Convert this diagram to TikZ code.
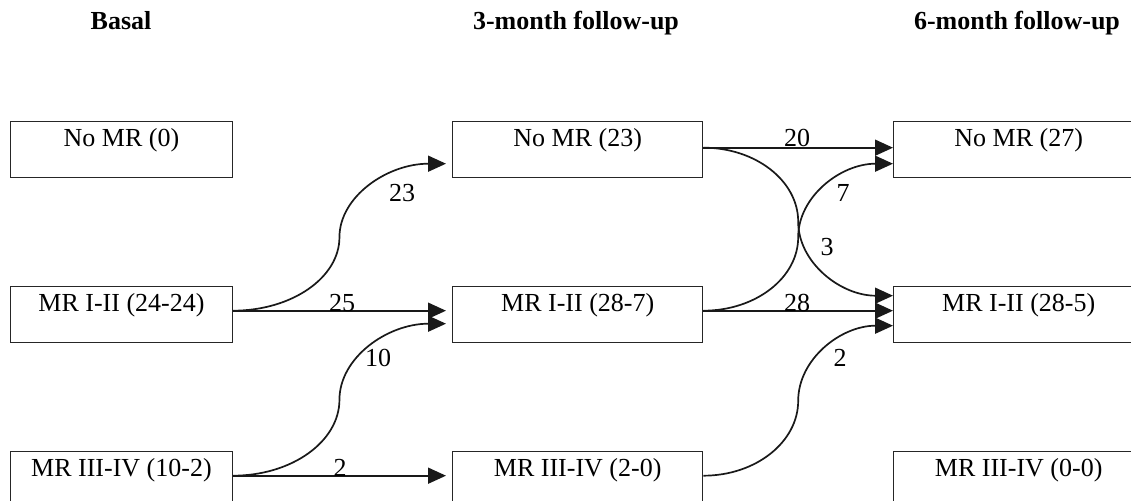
\documentclass[tikz,border=0pt]{standalone}
\usepackage{fontspec}
\setmainfont{Liberation Serif}
\usetikzlibrary{arrows.meta,calc}
\tikzset{
  box/.style={draw=black!85, line width=0.7pt, inner xsep=0pt, inner ysep=0pt,
    text height=12.5pt, text depth=15.5pt, minimum height=28pt, anchor=north west,
    font=\fontsize{13}{15.6}\selectfont},
  col1/.style={box, minimum width=110.75pt},
  col2/.style={box, minimum width=125pt},
  head/.style={anchor=base, inner sep=0pt, font=\fontsize{13}{15.6}\selectfont\bfseries},
  num/.style={inner sep=0pt, font=\fontsize{13}{15.6}\selectfont},
  arr/.style={draw=black!90, line width=0.85pt, -{Triangle[length=9pt,width=8pt]}},
  sc/.style={to path={let \p1=(\tikztostart), \p2=(\tikztotarget), \p3=($(\p1)!0.5!(\p2)$) in
    .. controls ($(\p1)+({0.276*(\x2-\x1)},0pt)$) and ($(\p3)+(0pt,{0.276*(\y1-\y2)})$) .. (\p3)
    .. controls ($(\p3)-(0pt,{0.276*(\y1-\y2)})$) and ($(\p2)-({0.276*(\x2-\x1)},0pt)$) .. (\p2)}}
}
\begin{document}
\begin{tikzpicture}[x=0.5pt,y=-0.5pt]
\useasboundingbox (0,0) rectangle (1131,501);
\clip (0,0) rectangle (1131,501);
% headers
\node[head] (h1) at (121,29.5) {Basal};
\node[head] (h2) at (576,29.5) {3-month follow-up};
\node[head] (h3) at (1017,29.5) {6-month follow-up};
% boxes
\node[col1] (a1) at (10,121) {No MR (0)};
\node[col1] (a2) at (10,286) {MR I-II (24-24)};
\node[col1] (a3) at (10,451) {MR III-IV (10-2)};
\node[col2] (b1) at (452,121) {No MR (23)};
\node[col2] (b2) at (452,286) {MR I-II (28-7)};
\node[col2] (b3) at (452,451) {MR III-IV (2-0)};
\node[col2] (c1) at (893,121) {No MR (27)};
\node[col2] (c2) at (893,286) {MR I-II (28-5)};
\node[col2] (c3) at (893,451) {MR III-IV (0-0)};
% connectors basal -> 3 months
\draw[arr] ($(a2.east)+(0,-4)$) to[sc] ($(b1.west)+(-6,14)$);
\draw[arr] ($(a2.east)+(0,-4)$) -- ($(b2.west)+(-6,-4)$);
\draw[arr] ($(a3.east)+(0,-4)$) to[sc] ($(b2.west)+(-6,9)$);
\draw[arr] ($(a3.east)+(0,-4)$) -- ($(b3.west)+(-6,-4)$);
% connectors 3 -> 6 months
\draw[arr] ($(b1.east)+(0,-2)$) -- ($(c1.west)+(0,-2)$);
\draw[arr] ($(b1.east)+(0,-2)$) to[sc] ($(c2.west)+(0,-19)$);
\draw[arr] ($(b2.east)+(0,-4)$) to[sc] ($(c1.west)+(0,14)$);
\draw[arr] ($(b2.east)+(0,-4)$) -- ($(c2.west)+(0,-4)$);
\draw[arr] ($(b3.east)+(0,-4)$) to[sc] ($(c2.west)+(0,11)$);
% labels
\node[num] (l23) at (402,193) {23};
\node[num] (l25) at (342,303) {25};
\node[num] (l10) at (378,358) {10};
\node[num] (l2a) at (340,467.5) {2};
\node[num] (l20) at (797,138) {20};
\node[num] (l7) at (843,193) {7};
\node[num] (l3) at (827,247) {3};
\node[num] (l28) at (797,303) {28};
\node[num] (l2b) at (840,358) {2};
\end{tikzpicture}
\end{document}
